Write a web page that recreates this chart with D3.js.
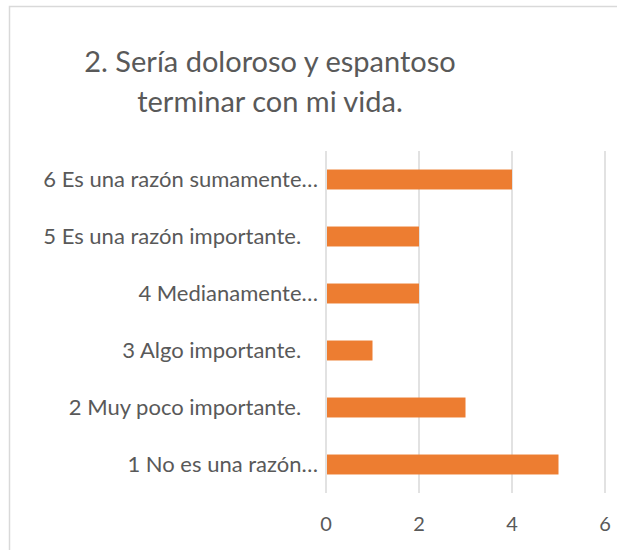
<!DOCTYPE html>
<meta charset="utf-8">
<style>
    body { margin: 0; background: #fff; }
    .grid line { stroke: #d9d9d9; stroke-width: 1.5; }
    .label { font-family: Lato, 'Open Sans', sans-serif; fill: #595959; white-space: pre; }
</style>
<body>
<script src="https://cdn.jsdelivr.net/npm/d3@7"></script>
<script>
    // categories top to bottom, as in the chart
    var categories = [
        "6 Es una razón sumamente…",
        "5 Es una razón importante.\u00a0\u00a0\u00a0",
        "4 Medianamente…",
        "3 Algo importante.\u00a0\u00a0\u00a0",
        "2 Muy poco importante.\u00a0\u00a0\u00a0",
        "1 No es una razón…"
    ];
    var values = [4, 2, 2, 1, 3, 5];
    var xTicks = [0, 2, 4, 6];
    var titleLines = ["2. Sería doloroso y espantoso", "terminar con mi vida."];

    var width = 617,
        height = 550;

    var svg = d3.select("body").append("svg")
        .attr("width", width)
        .attr("height", height);

    // chart frame (only top and left edges fall inside the picture)
    svg.append("rect")
        .attr("x", 9.5).attr("y", 6.5)
        .attr("width", 800).attr("height", 800)
        .attr("fill", "none")
        .attr("stroke", "#d9d9d9")
        .attr("stroke-width", 1.5);

    svg.selectAll(".title")
        .data(titleLines)
        .enter().append("text")
        .attr("class", "label title")
        .attr("x", 270)
        .attr("y", function(d, i) { return 72 + i * 40; })
        .attr("text-anchor", "middle")
        .style("font-size", "29px")
        .text(function(d) { return d; });

    var x = d3.scaleLinear()
        .domain([0, 6])
        .range([326, 605]);

    var y = d3.scaleBand()
        .domain(categories)
        .range([151, 493])
        .paddingInner(0.65)
        .paddingOuter(0.325);

    svg.append("g")
        .attr("class", "grid")
        .selectAll("line")
        .data(xTicks)
        .enter().append("line")
        .attr("x1", function(d) { return x(d); })
        .attr("x2", function(d) { return x(d); })
        .attr("y1", 151)
        .attr("y2", 493);

    svg.selectAll(".bar")
        .data(values)
        .enter().append("rect")
        .attr("class", "bar")
        .attr("x", x(0) + 1)
        .attr("y", function(d, i) { return y(categories[i]); })
        .attr("width", function(d) { return x(d) - x(0) - 1; })
        .attr("height", y.bandwidth())
        .attr("fill", "#ed7d31");

    svg.selectAll(".cat")
        .data(categories)
        .enter().append("text")
        .attr("class", "label cat")
        .attr("x", 318)
        .attr("y", function(d) { return y(d) + y.bandwidth() / 2; })
        .attr("dy", "0.35em")
        .attr("text-anchor", "end")
        .style("font-size", "22px")
        .text(function(d) { return d; });

    svg.selectAll(".tick-label")
        .data(xTicks)
        .enter().append("text")
        .attr("class", "label tick-label")
        .attr("x", function(d) { return x(d); })
        .attr("y", 531)
        .attr("text-anchor", "middle")
        .style("font-size", "20px")
        .text(function(d) { return d; });
</script>
</body>
